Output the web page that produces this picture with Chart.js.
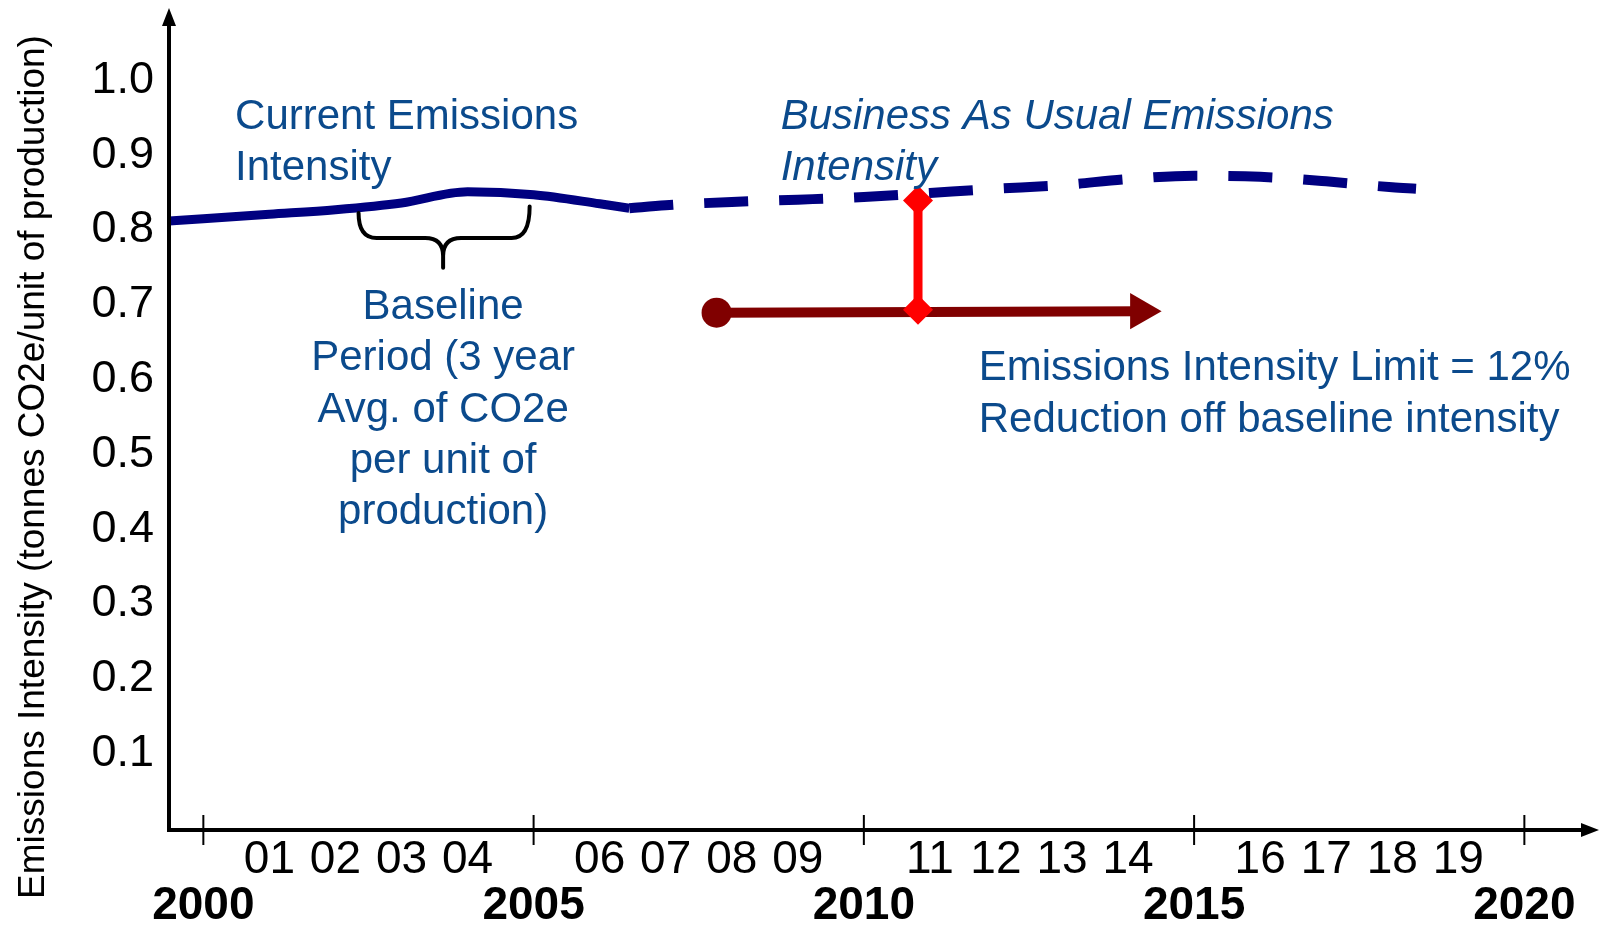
<!DOCTYPE html>
<html>
<head>
<meta charset="utf-8">
<script src="https://cdn.jsdelivr.net/npm/chart.js@4.4.1/dist/chart.umd.min.js"></script>
<style>
  html, body { margin: 0; padding: 0; background: #fff; }
  #wrap { width: 1604px; height: 925px; }
</style>
</head>
<body>
<div id="wrap"><canvas id="intensityChart"></canvas></div>
<script>
// x axis years and y axis ticks
const years = [2000, 2001, 2002, 2003, 2004, 2005, 2006, 2007, 2008, 2009, 2010,
  2011, 2012, 2013, 2014, 2015, 2016, 2017, 2018, 2019, 2020];
const yTicks = [0.1, 0.2, 0.3, 0.4, 0.5, 0.6, 0.7, 0.8, 0.9, 1.0];

// current emissions intensity (solid)
const currentYears = [1999.48, 2000, 2001, 2002, 2003, 2004, 2005, 2006, 2006.45];
const currentValues = [0.808, 0.811, 0.817, 0.823, 0.832, 0.847, 0.843, 0.831, 0.825];

// business as usual emissions intensity (dashed)
const bauYears = [2006.45, 2007, 2008, 2009, 2010, 2011, 2012, 2013, 2014, 2015, 2016, 2017, 2018, 2018.36];
const bauValues = [0.825, 0.829, 0.8335, 0.8365, 0.840, 0.8455, 0.851, 0.856, 0.864, 0.8685, 0.867, 0.861, 0.853, 0.851];

// emissions intensity limit (arrow) and the 12% reduction marker
const limitYears = [2007.77, 2014.19];
const limitValues = [0.6854, 0.6875];
const reductionYears = [2010.82, 2010.82];
const reductionValues = [0.8355, 0.6894];

const FONT = "'Liberation Sans', Arial, sans-serif";
const BLUE_TEXT = '#0b4a8c';

const pts = (xs, ys) => xs.map((x, i) => ({ x: x, y: ys[i] }));

// text notes placed in data units
const notes = [
  { lines: ['Current Emissions', 'Intensity'], x: 2000.48, y: 0.9507, align: 'left' },
  { lines: ['Business As Usual Emissions', 'Intensity'], x: 2008.74, y: 0.9507, align: 'left', italic: true },
  { lines: ['Baseline', 'Period (3 year', 'Avg. of CO2e', 'per unit of', 'production)'], x: 2003.63, y: 0.6963, align: 'center' },
  { lines: ['Emissions Intensity Limit = 12%', 'Reduction off baseline intensity'], x: 2011.74, y: 0.6143, align: 'left' }
];

const overlay = {
  id: 'overlay',
  afterDraw(chart) {
    const { ctx, chartArea: a, scales: { x, y } } = chart;
    ctx.save();

    // axes with arrows
    ctx.strokeStyle = '#000';
    ctx.fillStyle = '#000';
    ctx.lineWidth = 4;
    ctx.beginPath();
    ctx.moveTo(a.left, a.bottom + 2);
    ctx.lineTo(a.left, a.top + 12);
    ctx.moveTo(a.left - 2, a.bottom);
    ctx.lineTo(a.right - 14, a.bottom);
    ctx.stroke();
    ctx.beginPath();
    ctx.moveTo(a.left, a.top - 2);
    ctx.lineTo(a.left - 7, a.top + 16);
    ctx.lineTo(a.left + 7, a.top + 16);
    ctx.closePath();
    ctx.moveTo(a.right, a.bottom);
    ctx.lineTo(a.right - 18, a.bottom - 7);
    ctx.lineTo(a.right - 18, a.bottom + 7);
    ctx.closePath();
    ctx.fill();

    // major year ticks cross the axis
    ctx.lineWidth = 2;
    years.filter(v => v % 5 === 0).forEach(v => {
      const px = x.getPixelForValue(v);
      ctx.beginPath();
      ctx.moveTo(px, a.bottom - 15);
      ctx.lineTo(px, a.bottom + 15);
      ctx.stroke();
    });

    // baseline brace
    const L = x.getPixelForValue(2002.35), R = x.getPixelForValue(2004.94), C = x.getPixelForValue(2003.63);
    const lt = y.getPixelForValue(0.8187), rt = y.getPixelForValue(0.8275);
    const bar = y.getPixelForValue(0.7853), tip = y.getPixelForValue(0.7456);
    ctx.lineWidth = 4;
    ctx.lineCap = 'round';
    ctx.beginPath();
    ctx.moveTo(L, lt);
    ctx.quadraticCurveTo(L, bar, L + 18, bar);
    ctx.lineTo(C - 18, bar);
    ctx.quadraticCurveTo(C, bar, C, bar + 18);
    ctx.lineTo(C, tip);
    ctx.moveTo(R, rt);
    ctx.quadraticCurveTo(R, bar, R - 18, bar);
    ctx.lineTo(C + 18, bar);
    ctx.quadraticCurveTo(C, bar, C, bar + 18);
    ctx.stroke();

    // notes
    ctx.fillStyle = BLUE_TEXT;
    ctx.textBaseline = 'middle';
    notes.forEach(n => {
      ctx.font = (n.italic ? 'italic ' : '') + '42px ' + FONT;
      ctx.textAlign = n.align;
      const px = x.getPixelForValue(n.x), py = y.getPixelForValue(n.y) + 3;
      n.lines.forEach((t, i) => ctx.fillText(t, px, py + i * 51.3));
    });

    // y axis title
    ctx.fillStyle = '#000';
    ctx.font = '37px ' + FONT;
    ctx.textAlign = 'center';
    ctx.translate(34, 467);
    ctx.rotate(-Math.PI / 2);
    ctx.fillText('Emissions Intensity (tonnes CO2e/unit of production)', 0, 0);
    ctx.restore();
  }
};

new Chart(document.getElementById('intensityChart'), {
  type: 'line',
  data: {
    datasets: [
      {
        label: 'Reduction',
        data: pts(reductionYears, reductionValues),
        borderColor: '#ff0000',
        borderWidth: 9,
        pointStyle: 'rectRot',
        pointRadius: 15,
        pointBackgroundColor: '#ff0000',
        pointBorderWidth: 0,
        order: 0
      },
      {
        label: 'Limit',
        data: pts(limitYears, limitValues),
        borderColor: '#800000',
        borderWidth: 10,
        pointStyle: ['circle', 'triangle'],
        pointRadius: [15, 21],
        pointRotation: [0, 90],
        pointBackgroundColor: '#800000',
        pointBorderWidth: 0,
        order: 1
      },
      {
        label: 'Current Emissions Intensity',
        data: pts(currentYears, currentValues),
        borderColor: '#000080',
        borderWidth: 9,
        pointRadius: 0,
        cubicInterpolationMode: 'monotone',
        order: 2
      },
      {
        label: 'Business As Usual Emissions Intensity',
        data: pts(bauYears, bauValues),
        borderColor: '#000080',
        borderWidth: 10,
        borderDash: [44, 31],
        borderCapStyle: 'butt',
        pointRadius: 0,
        cubicInterpolationMode: 'monotone',
        order: 3
      }
    ]
  },
  options: {
    responsive: true,
    maintainAspectRatio: false,
    animation: false,
    layout: { autoPadding: false, padding: { top: 10, right: 5, left: 0, bottom: 0 } },
    plugins: { legend: { display: false }, tooltip: { enabled: false } },
    scales: {
      x: {
        type: 'linear',
        min: 1999.48,
        max: 2021.13,
        grid: { display: false, drawTicks: false },
        border: { display: false },
        afterBuildTicks: s => { s.ticks = years.map(v => ({ value: v })); },
        afterFit: s => { s.height = 95; s.paddingLeft = 0; s.paddingRight = 0; },
        ticks: {
          autoSkip: false,
          maxRotation: 0,
          minRotation: 0,
          padding: 0,
          color: '#000',
          font: c => (c.tick && c.tick.value % 5 === 0)
            ? { family: FONT, size: 46, weight: 'bold', lineHeight: 1.1 }
            : { family: FONT, size: 46, lineHeight: 1.33 },
          callback: v => v % 5 === 0 ? ['', String(v)] : String(v).slice(2)
        }
      },
      y: {
        min: -0.006,
        max: 1.09,
        grid: { display: false, drawTicks: false },
        border: { display: false },
        afterBuildTicks: s => { s.ticks = yTicks.map(v => ({ value: v })); },
        afterFit: s => { s.width = 169; s.paddingTop = 0; s.paddingBottom = 0; },
        ticks: {
          padding: 15,
          labelOffset: 3,
          color: '#000',
          font: { family: FONT, size: 45 },
          callback: v => v.toFixed(1)
        }
      }
    }
  },
  plugins: [overlay]
});
</script>
</body>
</html>
